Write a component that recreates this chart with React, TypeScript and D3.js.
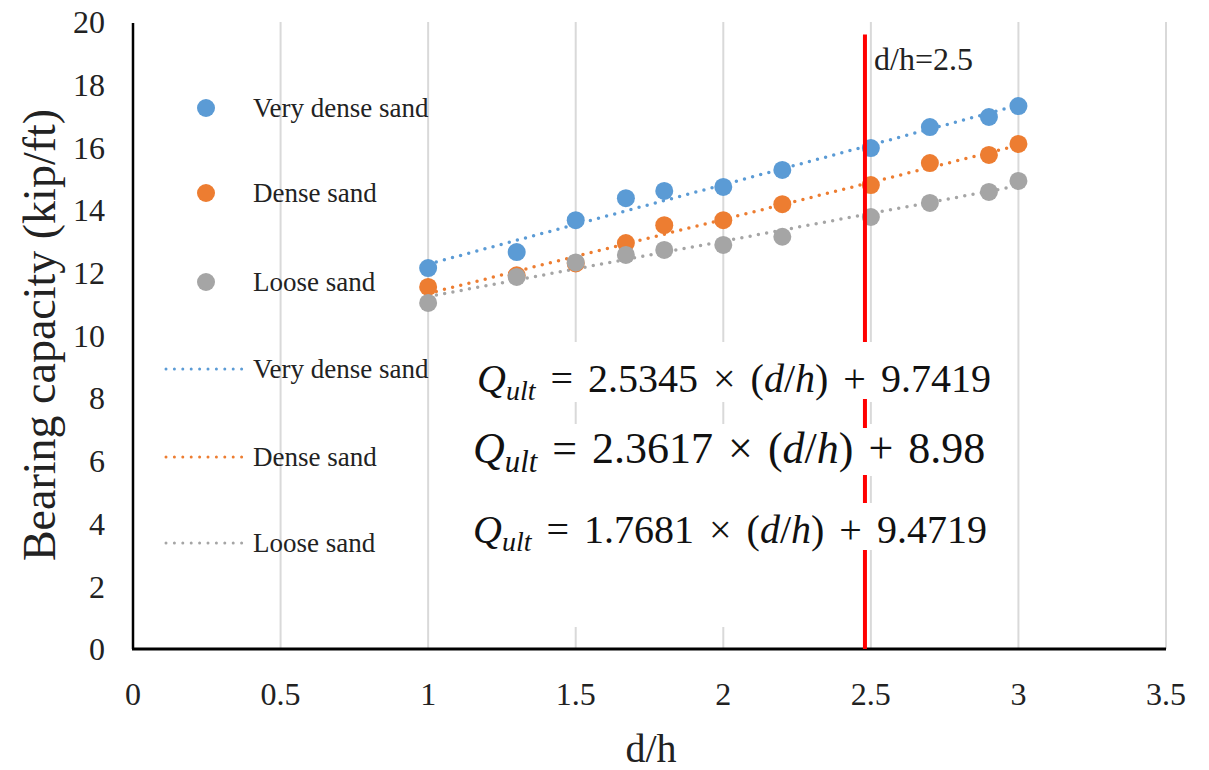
import React from "react";
import * as d3 from "d3";

const dH = [1, 1.3, 1.5, 1.67, 1.8, 2, 2.2, 2.5, 2.7, 2.9, 3];
const veryDense = [12.15, 12.66, 13.68, 14.38, 14.61, 14.74, 15.28, 15.98, 16.65, 16.97, 17.32];
const dense = [11.55, 11.92, 12.3, 12.95, 13.52, 13.68, 14.19, 14.8, 15.5, 15.76, 16.11];
const loose = [11.04, 11.87, 12.33, 12.57, 12.73, 12.89, 13.15, 13.78, 14.23, 14.58, 14.93];

const seriesNames = ["Very dense sand", "Dense sand", "Loose sand"];
const seriesColors = ["#5B9BD5", "#ED7D31", "#A5A5A5"];
const slopes = [2.5345, 2.3617, 1.7681];
const intercepts = [9.7419, 8.98, 9.4719];
const eqSlopeText = ["2.5345", "2.3617", "1.7681"];
const eqInterceptText = ["9.7419", "8.98", "9.4719"];

const xTicks = [0, 0.5, 1, 1.5, 2, 2.5, 3, 3.5];
const yTicks = [0, 2, 4, 6, 8, 10, 12, 14, 16, 18, 20];
const refLineX = 2.48;
const refLineTop = 19.6;
const refLabel = "d/h=2.5";

const FONT = "Liberation Serif, Times New Roman, serif";

export default function App() {
  const x = d3.scaleLinear().domain([0, 3.5]).range([133, 1166]);
  const y = d3.scaleLinear().domain([0, 20]).range([649, 22]);
  const allSeries = [veryDense, dense, loose];
  const line = d3
    .line<[number, number]>()
    .x((d) => x(d[0]))
    .y((d) => y(d[1]));

  const legendMarkerY = [108, 193, 282];
  const legendLineY = [369, 457, 543];
  const eqX = [477, 473, 473];
  const eqY = [392, 463, 543];
  const eqSize = [40, 44, 40];
  const eqWordSpacing = [5, 4, 5];

  return (
    <svg
      width={1209}
      height={770}
      style={{ position: "absolute", left: 0, top: 0, background: "#fff", fontFamily: FONT }}
    >
      <rect x={0} y={0} width={1209} height={770} fill="#fff" />
      {xTicks
        .filter((t) => t > 0)
        .map((t) => (
          <line key={t} x1={x(t)} x2={x(t)} y1={y(20)} y2={y(0)} stroke="#D9D9D9" strokeWidth={2} />
        ))}
      <line x1={x(0)} x2={x(0)} y1={y(20) + 1} y2={y(0)} stroke="#000" strokeWidth={2.5} />
      <line x1={x(0) - 1} x2={x(3.5)} y1={y(0)} y2={y(0)} stroke="#000" strokeWidth={3} />

      {yTicks.map((t) => (
        <text key={t} x={105} y={y(t)} dy="0.35em" textAnchor="end" fontSize={32} fill="#222">
          {t}
        </text>
      ))}
      {xTicks.map((t) => (
        <text key={t} x={x(t)} y={705} textAnchor="middle" fontSize={32} fill="#222">
          {t}
        </text>
      ))}
      <text x={651} y={762} textAnchor="middle" fontSize={40} fill="#222">
        d/h
      </text>
      <text transform={`translate(55, 335) rotate(-90)`} textAnchor="middle" fontSize={46} fill="#222">
        Bearing capacity (kip/ft)
      </text>

      {allSeries.map((_, i) => (
        <path
          key={"tl" + i}
          d={line([
            [dH[0], slopes[i] * dH[0] + intercepts[i]],
            [dH[dH.length - 1], slopes[i] * dH[dH.length - 1] + intercepts[i]],
          ])!}
          fill="none"
          stroke={seriesColors[i]}
          strokeWidth={3.5}
          strokeDasharray="0 8.4"
          strokeLinecap="round"
        />
      ))}
      {allSeries.map((s, i) =>
        s.map((v, j) => (
          <circle key={i + "-" + j} cx={x(dH[j])} cy={y(v)} r={9} fill={seriesColors[i]} />
        ))
      )}

      <rect x={462} y={342} width={545} height={60} fill="#fff" />
      <rect x={462} y={424} width={535} height={52} fill="#fff" />
      <rect x={462} y={503} width={535} height={47} fill="#fff" />
      <rect x={462} y={424} width={390} height={203} fill="#fff" />

      <line x1={x(refLineX)} x2={x(refLineX)} y1={y(refLineTop)} y2={y(0)} stroke="#FF0000" strokeWidth={4} />
      <rect x={x(refLineX) - 4} y={342} width={8} height={57} fill="#fff" />
      <rect x={x(refLineX) - 4} y={428} width={8} height={47} fill="#fff" />
      <rect x={x(refLineX) - 4} y={503} width={8} height={47} fill="#fff" />
      <text x={874} y={70} fontSize={32} fill="#222">
        {refLabel}
      </text>

      {slopes.map((_, i) => (
        <text
          key={"eq" + i}
          x={eqX[i]}
          y={eqY[i]}
          fontSize={eqSize[i]}
          fill="#111"
          fontFamily="Liberation Serif"
          style={{ wordSpacing: eqWordSpacing[i] + "px" }}
        >
          <tspan fontStyle="italic">Q</tspan>
          <tspan fontStyle="italic" fontSize={eqSize[i] * 0.7} dy={eqSize[i] * 0.2}>
            ult
          </tspan>
          <tspan dy={-eqSize[i] * 0.2}>{" = " + eqSlopeText[i] + " × ("}</tspan>
          <tspan fontStyle="italic">d</tspan>
          <tspan>/</tspan>
          <tspan fontStyle="italic">h</tspan>
          <tspan>{") + " + eqInterceptText[i]}</tspan>
        </text>
      ))}

      {seriesNames.map((n, i) => (
        <g key={"lg" + i}>
          <circle cx={206} cy={legendMarkerY[i]} r={9} fill={seriesColors[i]} />
          <text x={253} y={legendMarkerY[i] + 9} fontSize={27} fill="#222">
            {n}
          </text>
        </g>
      ))}
      {seriesNames.map((n, i) => (
        <g key={"lgl" + i}>
          <line
            x1={166}
            x2={242}
            y1={legendLineY[i]}
            y2={legendLineY[i]}
            stroke={seriesColors[i]}
            strokeWidth={3}
            strokeDasharray="0 8.4"
            strokeLinecap="round"
          />
          <text x={253} y={legendLineY[i] + 9} fontSize={27} fill="#222">
            {n}
          </text>
        </g>
      ))}
    </svg>
  );
}
